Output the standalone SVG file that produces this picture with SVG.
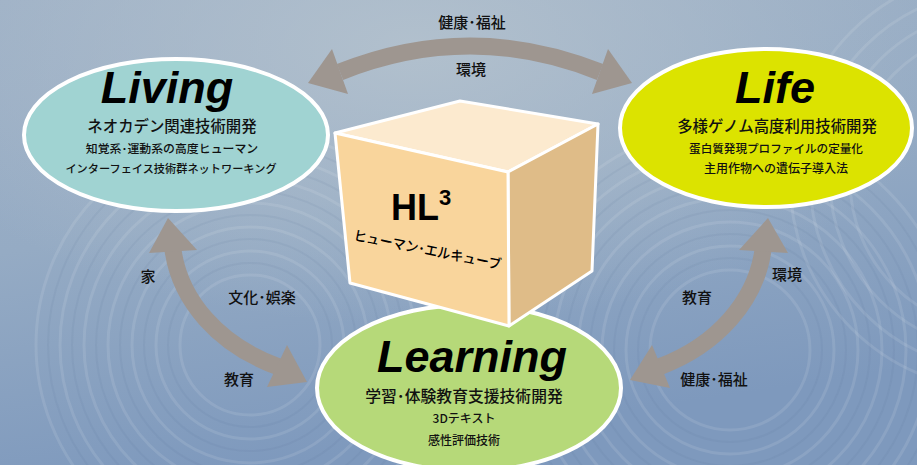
<svg xmlns="http://www.w3.org/2000/svg" width="917" height="465" viewBox="0 0 917 465">
<defs>
<linearGradient id="bg" x1="0" y1="0" x2="0.3" y2="1">
<stop offset="0" stop-color="#9DB0C6"/>
<stop offset="0.5" stop-color="#95ABC4"/>
<stop offset="1" stop-color="#7E99BD"/>
</linearGradient>
<radialGradient id="glow" cx="0.45" cy="0.1" r="0.6">
<stop offset="0" stop-color="#B4C2CE" stop-opacity="0.9"/>
<stop offset="1" stop-color="#B4C2CE" stop-opacity="0"/>
</radialGradient>
<style>
.rip{fill:none;stroke:#FFFFFF;stroke-opacity:0.10;stroke-width:3}
.ripd{fill:none;stroke:#4C6A90;stroke-opacity:0.08;stroke-width:2}
.shaft{fill:none;stroke:#9E9690;stroke-width:17}
.head{fill:#9E9690}
.node{stroke:#FFFFFF;stroke-width:4}
.big{font-family:"Liberation Sans",Arial,sans-serif;font-weight:bold;font-style:italic;font-size:45px;fill:#000;text-anchor:middle}
.jp{font-family:"Noto Sans CJK JP","Noto Sans",sans-serif;font-weight:500;fill:#111;text-anchor:middle}
.lab{font-family:"Noto Sans CJK JP","Noto Sans",sans-serif;font-weight:500;fill:#111;font-size:15px;text-anchor:middle}
.face{stroke:#FFFFFF;stroke-width:3;stroke-linejoin:round}
</style>
</defs>

<g id="background">
<rect width="917" height="465" fill="url(#bg)"/>
<rect width="917" height="465" fill="url(#glow)"/>
<g>
<circle class="rip" cx="250" cy="345" r="70"/>
<circle class="ripd" cx="250" cy="345" r="82"/>
<circle class="rip" cx="250" cy="345" r="94"/>
<circle class="ripd" cx="250" cy="345" r="106"/>
<circle class="rip" cx="250" cy="345" r="118"/>
<circle class="ripd" cx="250" cy="345" r="130"/>
<circle class="rip" cx="250" cy="345" r="142"/>
<circle class="ripd" cx="250" cy="345" r="154"/>
<circle class="rip" cx="250" cy="345" r="166"/>
<circle class="ripd" cx="250" cy="345" r="178"/>
<circle class="rip" cx="250" cy="345" r="190"/>
<circle class="ripd" cx="250" cy="345" r="202"/>
<circle class="rip" cx="250" cy="345" r="214"/>
<circle class="rip" cx="730" cy="350" r="80"/>
<circle class="ripd" cx="730" cy="350" r="92"/>
<circle class="rip" cx="730" cy="350" r="104"/>
<circle class="ripd" cx="730" cy="350" r="116"/>
<circle class="rip" cx="730" cy="350" r="128"/>
<circle class="ripd" cx="730" cy="350" r="140"/>
<circle class="rip" cx="730" cy="350" r="152"/>
<circle class="ripd" cx="730" cy="350" r="164"/>
<circle class="rip" cx="730" cy="350" r="176"/>
<circle class="ripd" cx="730" cy="350" r="188"/>
<circle class="rip" cx="730" cy="350" r="200"/>
<circle class="ripd" cx="730" cy="350" r="212"/>
<circle class="rip" cx="730" cy="350" r="224"/>
<circle class="rip" cx="1000" cy="180" r="150"/>
<circle class="rip" cx="1000" cy="180" r="170"/>
<circle class="rip" cx="1000" cy="180" r="190"/>
<circle class="rip" cx="1000" cy="180" r="210"/>
</g>
</g>

<g id="connectors">
<g id="arrow-living-life">
<path class="shaft" d="M 340 72 Q 470 20 600 72"/>
<polygon class="head" points="308,83 332,49 348,94"/>
<polygon class="head" points="632,83 608,49 592,94"/>
</g>
<g id="arrow-living-learning">
<path class="shaft" d="M 173 250 C 180 300, 218 345, 279 367"/>
<polygon class="head" points="168,218 149,253 197,250"/>
<polygon class="head" points="307,382 287,345 267,387"/>
</g>
<g id="arrow-life-learning">
<path class="shaft" d="M 763 250 C 756 300, 718 345, 659 367"/>
<polygon class="head" points="768,218 739,250 788,253"/>
<polygon class="head" points="630,380 652,345 670,388"/>
</g>
<text class="lab" x="472" y="28">健康･福祉</text>
<text class="lab" x="471" y="75">環境</text>
<text class="lab" x="148" y="282">家</text>
<text class="lab" x="262" y="303">文化･娯楽</text>
<text class="lab" x="239" y="385">教育</text>
<text class="lab" x="787" y="280">環境</text>
<text class="lab" x="697" y="303">教育</text>
<text class="lab" x="714" y="385">健康･福祉</text>
</g>

<g id="living">
<ellipse class="node" cx="176" cy="135" rx="152" ry="76" fill="#A0D3D2"/>
<text class="big" x="167" y="103">Living</text>
<text class="jp" x="172" y="132" font-size="15.4">ネオカデン関連技術開発</text>
<text class="jp" x="172" y="153" font-size="11.9">知覚系･運動系の高度ヒューマン</text>
<text class="jp" x="171" y="173" font-size="11.2">インターフェイス技術群ネットワーキング</text>
</g>

<g id="life">
<ellipse class="node" cx="766" cy="128" rx="146" ry="79" fill="#DCE300"/>
<text class="big" x="775" y="103">Life</text>
<text class="jp" x="777" y="132" font-size="15.4">多様ゲノム高度利用技術開発</text>
<text class="jp" x="776" y="153" font-size="11.6">蛋白質発現プロファイルの定量化</text>
<text class="jp" x="776" y="173" font-size="12">主用作物への遺伝子導入法</text>
</g>

<g id="learning">
<ellipse class="node" cx="469" cy="388" rx="152" ry="83" fill="#B6D979"/>
<text class="big" x="472" y="372">Learning</text>
<text class="jp" x="464" y="402" font-size="15.8">学習･体験教育支援技術開発</text>
<text class="jp" x="464" y="423" font-size="12">3Dテキスト</text>
<text class="jp" x="464" y="445" font-size="12">感性評価技術</text>
</g>

<g id="hl3-cube">
<polygon class="face" points="335,133 460,101 598,124 508,172" fill="#FCEACF"/>
<polygon class="face" points="508,172 598,124 592,271 509,326" fill="#DFBC88"/>
<polygon class="face" points="335,133 508,172 509,326 350,283" fill="#F9D59C"/>
<text x="391" y="220" font-family="'Liberation Sans',Arial,sans-serif" font-weight="bold" font-size="36" fill="#000">HL<tspan font-size="22" dy="-15">3</tspan></text>
<text x="353" y="240" transform="rotate(11.4 353 240)" font-family="'Noto Sans CJK JP','Noto Sans',sans-serif" font-weight="500" font-size="14" fill="#000" textLength="150" lengthAdjust="spacingAndGlyphs">ヒューマン･エルキューブ</text>
</g>
</svg>
